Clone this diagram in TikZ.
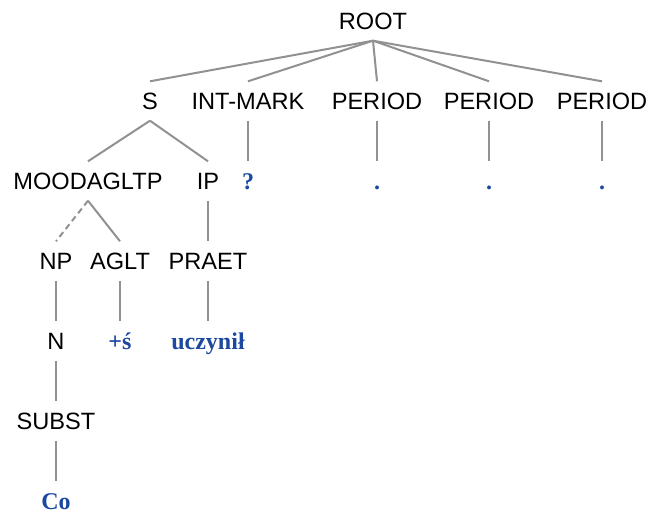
\documentclass[tikz,border=0pt]{standalone}
\usepackage{fontspec}
\setmainfont{Liberation Sans}
\newfontfamily\leaffont{Liberation Serif}
\usetikzlibrary{positioning}
\definecolor{leafblue}{RGB}{28,72,160}
\definecolor{edgegray}{RGB}{145,145,145}
\tikzset{
  cat/.style={inner xsep=1pt, inner ysep=5.5pt, text height=8.3pt, text depth=0pt,
    font=\fontsize{11.8}{14}\selectfont},
  leaf/.style={cat, text=leafblue, font=\leaffont\bfseries\fontsize{12}{14}\selectfont},
  edge/.style={draw=edgegray, line width=1pt}
}
\begin{document}
\begin{tikzpicture}[x=0.5pt,y=-0.5pt]
	\useasboundingbox (0,0) rectangle (648,513);
		% categories
		\node[cat] (root) at (373,21) {ROOT};
		\node[cat] (s) at (150,101) {S};
		\node[cat] (intmark) at (248,101) {INT-MARK};
		\node[cat] (period1) at (377,101) {PERIOD};
		\node[cat] (period2) at (489,101) {PERIOD};
		\node[cat] (period3) at (602,101) {PERIOD};
		\node[cat] (mood) at (88,181) {MOODAGLTP};
		\node[cat] (ip) at (208,181) {IP};
		\node[cat] (np) at (56,261) {NP};
		\node[cat] (aglt) at (120,261) {AGLT};
		\node[cat] (praet) at (208,261) {PRAET};
		\node[cat] (n) at (56,341) {N};
		\node[cat] (subst) at (56,421) {SUBST};
		% words
		\node[leaf] (qm) at (248,181) {?};
		\node[leaf] (dot1) at (377,181) {.};
		\node[leaf] (dot2) at (489,181) {.};
		\node[leaf] (dot3) at (602,181) {.};
		\node[leaf] (sz) at (120,341) {+ś};
		\node[leaf] (uczynil) at (208,341) {uczynił};
		\node[leaf] (co) at (56,501) {Co};
		% edges
		\foreach \c in {s,intmark,period1,period2,period3}
			\draw[edge] (root.south) -- (\c.north);
		\draw[edge] (s.south) -- (mood.north);
		\draw[edge] (s.south) -- (ip.north);
		\draw[edge,dash pattern=on 3pt off 2pt] (mood.south) -- (np.north);
		\draw[edge] (mood.south) -- (aglt.north);
		\draw[edge] (ip.south) -- (praet.north);
		\draw[edge] (np.south) -- (n.north);
		\draw[edge] (n.south) -- (subst.north);
		\draw[edge] (subst.south) -- (co.north);
		\draw[edge] (aglt.south) -- (sz.north);
		\draw[edge] (praet.south) -- (uczynil.north);
		\draw[edge] (intmark.south) -- (qm.north);
		\draw[edge] (period1.south) -- (dot1.north);
		\draw[edge] (period2.south) -- (dot2.north);
		\draw[edge] (period3.south) -- (dot3.north);
	\end{tikzpicture}
\end{document}
